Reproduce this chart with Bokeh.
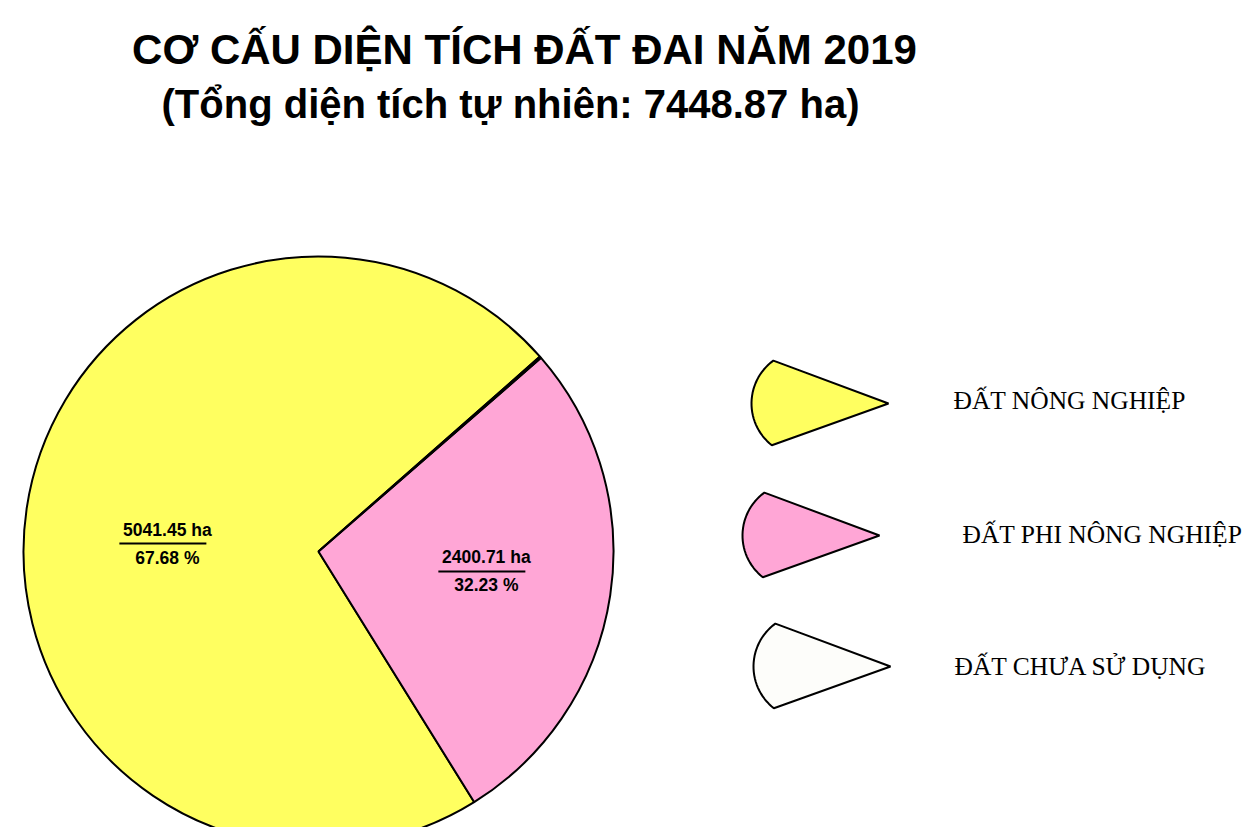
import math
from bokeh.plotting import figure
from bokeh.models import Range1d
from bokeh.embed import file_html
from bokeh.resources import INLINE
from bokeh.core.properties import value

# ---------------- data ----------------
categories = ["ĐẤT NÔNG NGHIỆP", "ĐẤT PHI NÔNG NGHIỆP", "ĐẤT CHƯA SỬ DỤNG"]
area_ha = [5041.45, 2400.71, 6.71]
percent_labels = ["67.68 %", "32.23 %", "0.09 %"]
# share of the full circle each sector occupies as drawn in the reference (%)
drawn_share = [72.36, 27.55, 0.09]
colors = ["#FFFF60", "#FFA6D6", "#FDFDFA"]
total_ha = 7448.87
year = 2019

title_line1 = f"CƠ CẤU DIỆN TÍCH ĐẤT ĐAI NĂM {year}"
title_line2 = f"(Tổng diện tích tự nhiên: {total_ha} ha)"

# ---------------- layout ----------------
W, H = 1260, 827


def Y(py):
    return H - py


p = figure(width=W, height=H, output_backend="svg", toolbar_location=None,
           x_range=Range1d(0, W), y_range=Range1d(0, H),
           x_axis_type=None, y_axis_type=None, min_border=0)
p.outline_line_color = None
p.grid.visible = False
p.background_fill_color = "white"
p.border_fill_color = "white"

# ---------------- pie ----------------
cx, cy, R = 318, Y(551), 295
start_deg = 41.35
starts, ends, mids = [], [], []
acc = start_deg
for s in drawn_share:
    a0 = acc
    a1 = acc + 360.0 * s / 100.0
    starts.append(math.radians(a0))
    ends.append(math.radians(a1))
    mids.append((a0 + a1) / 2)
    acc = a1

p.wedge(x=[cx] * 3, y=[cy] * 3, radius=R, start_angle=starts, end_angle=ends,
        fill_color=colors, line_color="black", line_width=2)

# labels inside the two visible sectors
label_r = [0.513, 0.573]
label_shift = [5.4, 1.8]
for i in range(2):
    a = math.radians(mids[i] + label_shift[i])
    lx = cx + R * label_r[i] * math.cos(a)
    ly = cy + R * label_r[i] * math.sin(a)
    p.text(x=[lx], y=[ly + 14], text=[f"{area_ha[i]:.2f} ha"],
           text_align="center", text_baseline="middle",
           text_font=value("Liberation Sans"), text_font_style="bold",
           text_font_size="17.5px", text_color="black")
    p.text(x=[lx], y=[ly - 14], text=[percent_labels[i]],
           text_align="center", text_baseline="middle",
           text_font=value("Liberation Sans"), text_font_style="bold",
           text_font_size="17.5px", text_color="black")
    p.segment(x0=[lx - 48], y0=[ly], x1=[lx + 39], y1=[ly],
              line_color="black", line_width=2)

# ---------------- legend ----------------
leg_tip_x = [888, 879, 890]
leg_tip_y = [403, 535, 666]
leg_text_x = [953, 962, 954]
leg_text_y = [400, 534, 666]
icon_xs, icon_ys = [], []
for tx, ty in zip(leg_tip_x, leg_tip_y):
    acx, acy = tx - 84, Y(ty)
    xs, ys = [tx], [Y(ty)]
    n = 30
    for k in range(n + 1):
        a = math.radians(126 + (232 - 126) * k / n)
        xs.append(acx + 53 * math.cos(a))
        ys.append(acy + 53 * math.sin(a))
    icon_xs.append(xs)
    icon_ys.append(ys)
p.patches(xs=icon_xs, ys=icon_ys, fill_color=colors, line_color="black",
          line_width=2)
p.text(x=leg_text_x, y=[Y(t) for t in leg_text_y], text=categories,
       text_align="left", text_baseline="middle",
       text_font=value("Liberation Serif"), text_font_size="25.5px",
       text_color="black")

# ---------------- title ----------------
p.text(x=[524], y=[Y(49)], text=[title_line1], text_align="center",
       text_baseline="middle", text_font=value("Liberation Sans"),
       text_font_style="bold", text_font_size="42px", text_color="black")
p.text(x=[510], y=[Y(103)], text=[title_line2], text_align="center",
       text_baseline="middle", text_font=value("Liberation Sans"),
       text_font_style="bold", text_font_size="40px", text_color="black")

open("out.html", "w").write(file_html(p, INLINE))
